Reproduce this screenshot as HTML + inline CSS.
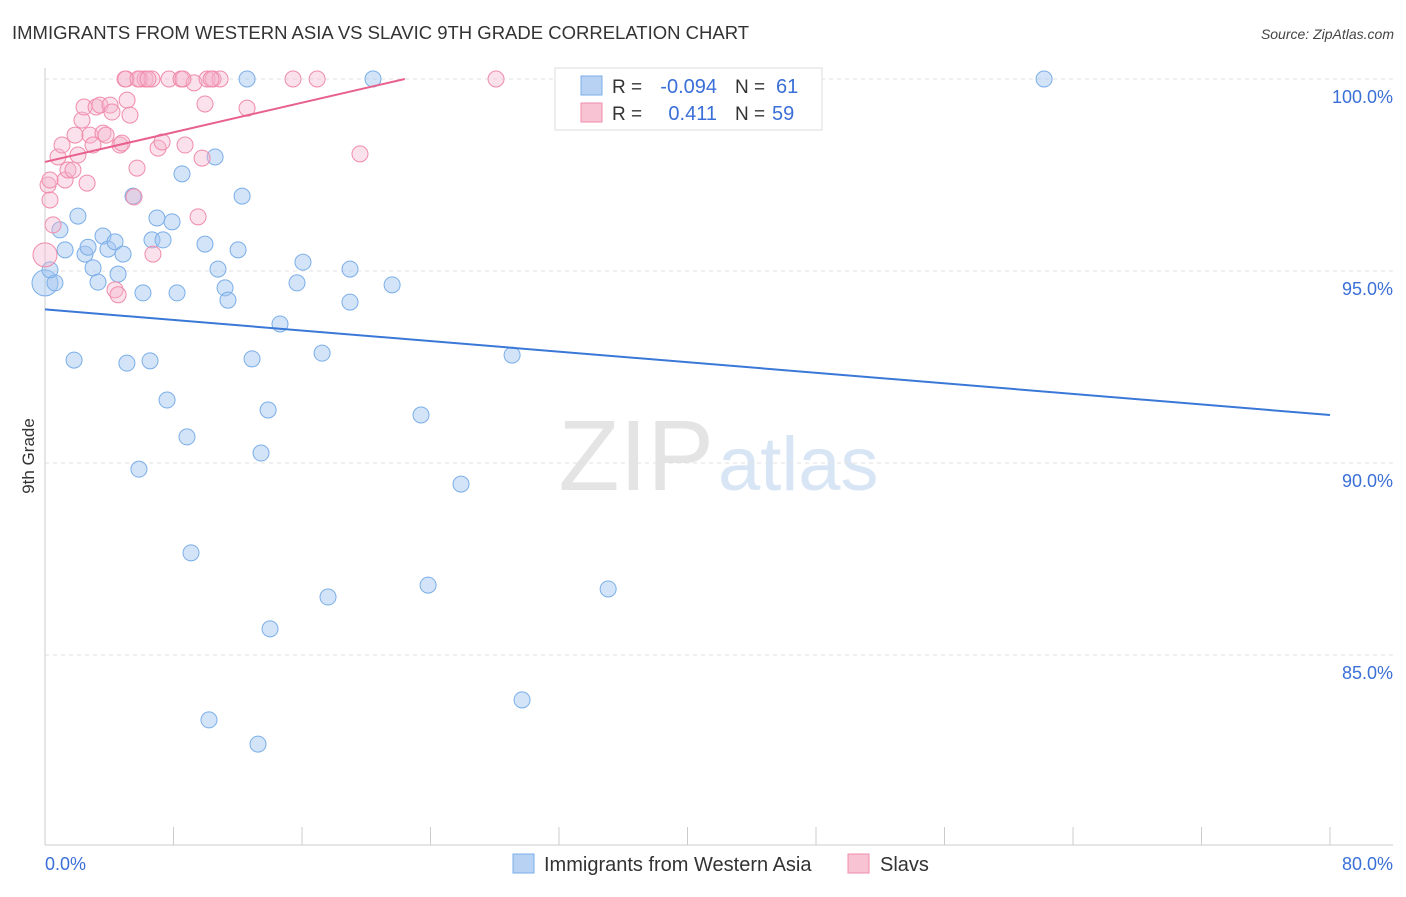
<!DOCTYPE html>
<html><head><meta charset="utf-8"><style>
body{margin:0;background:#fff;font-family:"Liberation Sans",sans-serif}
svg text{font-family:"Liberation Sans",sans-serif}
</style></head><body>
<svg id="c" width="1406" height="892" xmlns="http://www.w3.org/2000/svg">
<text x="12" y="39" font-size="18.5" fill="#333">IMMIGRANTS FROM WESTERN ASIA VS SLAVIC 9TH GRADE CORRELATION CHART</text>
<text x="1394" y="39" font-size="14" fill="#444" text-anchor="end" font-style="italic">Source: ZipAtlas.com</text>
<text x="714" y="490" font-size="100" fill="#e4e4e4" text-anchor="end" font-family="Liberation Serif">ZIP</text>
<text x="718" y="490" font-size="76" fill="#d8e5f5">atlas</text>
<text x="34" y="456" font-size="17" fill="#333" text-anchor="middle" transform="rotate(-90 34 456)">9th Grade</text>
<g id="grid"></g><g id="ticks"></g><g id="pts"></g><g id="lines"></g>
<g>
<rect x="555" y="68" width="267" height="62" fill="#fff" stroke="#ddd"/>
<rect x="581" y="76" width="21" height="19" fill="#b8d2f4" stroke="#7aaee8"/>
<rect x="581" y="103" width="21" height="19" fill="#f8c4d4" stroke="#f08cab"/>
<text x="612" y="93" font-size="19" fill="#333">R =</text>
<text x="717" y="93" font-size="20" fill="#3a6fd8" text-anchor="end">-0.094</text>
<text x="735" y="93" font-size="19" fill="#333">N =</text>
<text x="776" y="93" font-size="20" fill="#3a6fd8">61</text>
<text x="612" y="120" font-size="19" fill="#333">R =</text>
<text x="717" y="120" font-size="20" fill="#3a6fd8" text-anchor="end">0.411</text>
<text x="735" y="120" font-size="19" fill="#333">N =</text>
<text x="772" y="120" font-size="20" fill="#3a6fd8">59</text>
</g>
<g>
<rect x="513" y="854" width="21" height="19" fill="#b8d2f4" stroke="#7aaee8"/>
<text x="544" y="871" font-size="20" fill="#333">Immigrants from Western Asia</text>
<rect x="848" y="854" width="21" height="19" fill="#f8c4d4" stroke="#f08cab"/>
<text x="880" y="871" font-size="20" fill="#333">Slavs</text>
</g>
<text x="45" y="870" font-size="18" fill="#3a6fd8">0.0%</text>
<text x="1393" y="870" font-size="18" fill="#3a6fd8" text-anchor="end">80.0%</text>
</svg>
<script>
const blueX=[0,0.62,0.31,1.25,0.93,2.05,2.49,2.68,2.99,3.3,3.61,3.92,4.36,4.55,4.86,5.48,6.1,5.1,6.54,1.81,6.66,6.97,7.35,7.91,8.22,8.53,9.96,10.59,10.77,11.21,11.39,12.02,12.27,12.58,12.89,13.89,13.45,14.63,15.69,16.06,17.25,18.99,18.99,21.61,20.42,23.41,25.9,29.08,7.6,8.84,5.85,9.09,17.62,23.85,35.06,14.01,10.21,13.26,29.7,42.34,62.2];
const blueY=[94.69,94.69,95.03,95.55,96.07,96.43,95.44,95.62,95.08,94.71,95.91,95.57,95.76,94.92,95.44,96.95,94.43,92.6,92.66,92.68,95.81,96.38,95.81,96.28,94.43,97.53,95.7,97.97,95.05,94.56,94.24,95.55,96.95,100,92.71,91.38,90.26,93.62,94.69,95.23,92.86,95.05,94.19,94.64,100,91.25,89.45,92.81,91.64,90.68,89.84,87.66,86.51,86.82,86.72,85.68,83.31,82.68,83.83,100,100];
const pinkX=[0,0.31,0.19,0.5,0.81,1.06,1.25,1.43,1.74,1.87,2.05,2.3,2.43,2.62,2.8,2.99,3.18,3.42,3.61,3.8,4.05,4.17,4.36,4.55,4.67,4.79,5.11,5.29,5.54,5.73,5.92,6.23,6.66,5.04,7.04,7.29,7.72,8.47,8.72,9.28,6.72,9.53,9.78,9.96,10.09,10.46,10.9,12.58,15.44,16.94,19.61,28.08,32.5,4.98,5.79,6.41,8.59,10.34,0.31];
const pinkY=[95.42,96.85,97.24,96.2,97.97,98.28,97.37,97.63,97.63,98.54,98.02,98.93,99.27,97.29,98.54,98.28,99.27,99.32,98.59,98.54,99.32,99.14,94.51,94.38,98.28,98.33,99.45,99.06,96.93,97.68,100,100,100,100,98.2,98.36,100,100,98.28,99.9,95.44,96.41,97.94,99.35,100,100,100,99.24,100,100,98.05,100,100,100,100,100,100,100,97.37];
const blueTrend=[94.0,91.25];
const pinkTrend=[97.84,100,22.4];
const yTicks=[100,95,90,85];
const yTickLabels=["100.0%","95.0%","90.0%","85.0%"];
const xTicks=[0,8,16,24,32,40,48,56,64,72,80];
const NS="http://www.w3.org/2000/svg";
const X=v=>45+v*(1285/80), Y=v=>79+(100-v)*38.4;
function mk(tag,a,p){const e=document.createElementNS(NS,tag);for(const k in a)e.setAttribute(k,a[k]);p.appendChild(e);return e;}
const g=document.getElementById('grid');
yTicks.forEach((t,i)=>{const l=mk('line',{x1:45,x2:1393,y1:Y(t),y2:Y(t),stroke:'#e2e2e2','stroke-dasharray':'4 4'},g);


const tx=mk('text',{x:1393,y:Y(t)+24,'font-size':18,fill:'#3a6fd8','text-anchor':'end'},g);tx.textContent=yTickLabels[i];

});
const tk=document.getElementById('ticks');
const ax=mk('line',{x1:45,x2:45,y1:68,y2:845,stroke:'#ccc'},tk);


const bx=mk('line',{x1:45,x2:1393,y1:845,y2:845,stroke:'#ccc'},tk);


xTicks.forEach(t=>{const l=mk('line',{x1:X(t),x2:X(t),y1:827,y2:845,stroke:'#ccc'},tk);

});
const p=document.getElementById('pts');
blueX.forEach((x,i)=>{const c=mk('circle',{cx:X(x),cy:Y(blueY[i]),r:i==0?13:8,fill:'rgba(160,196,240,0.45)',stroke:'#7aaee8','stroke-width':1},p);

});
pinkX.forEach((x,i)=>{const c=mk('circle',{cx:X(x),cy:Y(pinkY[i]),r:i==0?12:8,fill:'rgba(245,180,204,0.4)',stroke:'#f08cab','stroke-width':1},p);

});
const ln=document.getElementById('lines');
const b=mk('line',{x1:X(0),y1:Y(blueTrend[0]),x2:X(80),y2:Y(blueTrend[1]),stroke:'#3a78d8','stroke-width':2},ln);


const pk=mk('line',{x1:X(0),y1:Y(pinkTrend[0]),x2:X(pinkTrend[2]),y2:Y(pinkTrend[1]),stroke:'#e8608c','stroke-width':2},ln);


</script>
</body></html>
